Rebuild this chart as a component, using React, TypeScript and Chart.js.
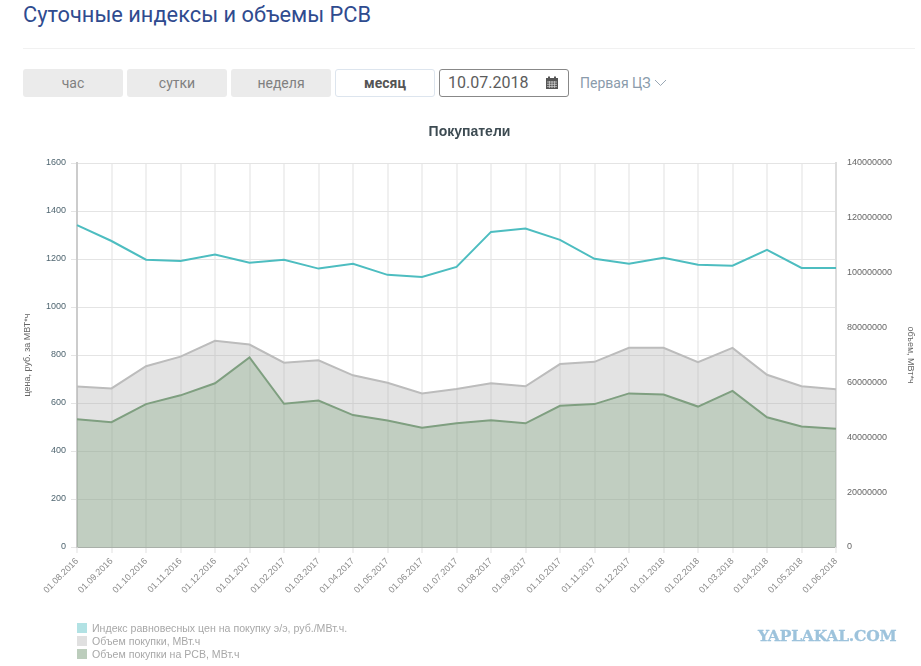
import { useEffect, useRef } from "react";
import { Chart, registerables } from "chart.js";

Chart.register(...registerables);

const months = [
  "01.08.2016", "01.09.2016", "01.10.2016", "01.11.2016", "01.12.2016",
  "01.01.2017", "01.02.2017", "01.03.2017", "01.04.2017", "01.05.2017",
  "01.06.2017", "01.07.2017", "01.08.2017", "01.09.2017", "01.10.2017",
  "01.11.2017", "01.12.2017", "01.01.2018", "01.02.2018", "01.03.2018",
  "01.04.2018", "01.05.2018", "01.06.2018",
];

// руб. за МВт*ч
const priceIndex = [
  1341, 1275, 1197, 1192, 1219, 1184, 1197, 1160, 1180, 1134, 1125, 1167,
  1313, 1327, 1280, 1201, 1180, 1205, 1176, 1172, 1238, 1163, 1163,
];

// МВт*ч
const purchaseVolume = [
  58500000, 57800000, 65900000, 69400000, 75200000, 73800000, 67200000,
  68100000, 62600000, 59900000, 56000000, 57600000, 59700000, 58600000,
  66700000, 67500000, 72600000, 72600000, 67400000, 72600000, 62800000,
  58600000, 57500000,
];

const purchaseVolumeRsv = [
  46600000, 45500000, 52100000, 55300000, 59700000, 69100000, 52200000,
  53400000, 48100000, 46100000, 43500000, 45100000, 46200000, 45100000,
  51500000, 52100000, 56000000, 55600000, 51200000, 56900000, 47300000,
  43900000, 43100000,
];

const periods = ["час", "сутки", "неделя", "месяц"];
const legendItems = [
  { label: "Индекс равновесных цен на покупку э/э, руб./МВт.ч.", color: "#b2e2e4" },
  { label: "Объем покупки, МВт.ч", color: "#e0e0e0" },
  { label: "Объем покупки на РСВ, МВт.ч", color: "#bccdbc" },
];

const FONT = "'Liberation Sans', Arial, sans-serif";

const abs = (left: number, top: number, width?: number, height?: number): React.CSSProperties => ({
  position: "absolute",
  left,
  top,
  width,
  height,
});

const plainTick = (value: string | number) => String(value);

const App: React.FC = () => {
  const canvasRef = useRef<HTMLCanvasElement | null>(null);

  useEffect(() => {
    if (!canvasRef.current) return;
    const chart = new Chart(canvasRef.current, {
      type: "line",
      data: {
        labels: months,
        datasets: [
          {
            label: legendItems[0].label,
            data: priceIndex,
            yAxisID: "y",
            borderColor: "#4dbdc0",
            borderWidth: 2,
            pointRadius: 0,
            tension: 0,
            fill: false,
            order: 1,
          },
          {
            label: legendItems[1].label,
            data: purchaseVolume,
            yAxisID: "y1",
            borderColor: "#bcbcbc",
            backgroundColor: "rgba(170,170,170,0.33)",
            borderWidth: 2,
            pointRadius: 0,
            tension: 0,
            fill: "origin",
            order: 3,
          },
          {
            label: legendItems[2].label,
            data: purchaseVolumeRsv,
            yAxisID: "y1",
            borderColor: "#7f9f80",
            backgroundColor: "rgba(130,165,130,0.35)",
            borderWidth: 2,
            pointRadius: 0,
            tension: 0,
            fill: "origin",
            order: 2,
          },
        ],
      },
      options: {
        responsive: false,
        animation: false,
        plugins: {
          legend: { display: false },
          tooltip: { enabled: false },
          title: {
            display: true,
            text: "Покупатели",
            color: "#3d4b52",
            font: { family: FONT, size: 14, weight: "bold" },
            padding: { top: 4, bottom: 22.2 },
          },
        },
        scales: {
          x: {
            ticks: {
              autoSkip: false,
              minRotation: 45,
              maxRotation: 45,
              color: "#8a8a8a",
              padding: 3,
              font: { family: FONT, size: 9 },
            },
            grid: { color: "#f0f0f0", lineWidth: 2, tickLength: 6 },
            border: { color: "#a9b0a9", width: 1 },
            afterFit: (scale) => {
              scale.height = 119;
            },
          },
          y: {
            position: "left",
            min: 0,
            max: 1600,
            ticks: {
              stepSize: 200,
              color: "#4f6570",
              padding: 5,
              font: { family: FONT, size: 9 },
              callback: plainTick,
            },
            title: {
              display: true,
              text: "цена, руб. за МВТ*ч",
              color: "#666",
              font: { family: FONT, size: 9 },
              padding: { top: 4, bottom: 0 },
            },
            grid: { color: "#e4e4e4", lineWidth: 1, tickLength: 6 },
            border: { color: "#cccccc", width: 2 },
            afterFit: (scale) => {
              scale.width = 59;
            },
          },
          y1: {
            position: "right",
            min: 0,
            max: 140000000,
            ticks: {
              stepSize: 20000000,
              color: "#666",
              padding: 11,
              font: { family: FONT, size: 9 },
              callback: plainTick,
            },
            title: {
              display: true,
              text: "объем, МВт*ч",
              color: "#666",
              font: { family: FONT, size: 9 },
              padding: { top: 5, bottom: 0 },
            },
            grid: { drawOnChartArea: false, drawTicks: false },
            border: { color: "#dddddd", width: 2 },
            afterFit: (scale) => {
              scale.width = 85;
            },
          },
        },
      },
    });
    return () => chart.destroy();
  }, []);

  return (
    <div style={{ ...abs(0, 0, 921, 666), background: "#fff", overflow: "hidden", fontFamily: "Roboto, sans-serif" }}>
      <div style={{ ...abs(23, 0), fontSize: 21.8, lineHeight: "29px", color: "#2f4b8f", whiteSpace: "nowrap" }}>
        Суточные индексы и объемы РСВ
      </div>
      <div style={{ ...abs(23, 48, 892, 1), background: "#f1f1f1" }} />

      {periods.map((p, i) => {
        const active = p === "месяц";
        return (
          <div
            key={p}
            style={{
              ...abs(23 + i * 104, 69, 100, 28),
              boxSizing: "border-box",
              borderRadius: 3,
              background: active ? "#fff" : "#ebebeb",
              border: active ? "1px solid #dde5ee" : "none",
              color: active ? "#555" : "#808080",
              fontWeight: active ? 700 : 400,
              fontSize: 14,
              lineHeight: active ? "26px" : "28px",
              textAlign: "center",
            }}
          >
            {p}
          </div>
        );
      })}

      <div
        style={{
          ...abs(439, 69, 130, 28),
          boxSizing: "border-box",
          border: "1px solid #888",
          borderRadius: 3,
          paddingLeft: 8,
          fontSize: 16,
          lineHeight: "25px",
          color: "#5c5c5c",
        }}
      >
        10.07.2018
      </div>
      <svg style={abs(545, 76, 14, 14)} viewBox="0 0 14 14">
        <rect x="1" y="2" width="12" height="11" fill="#555" />
        <rect x="3" y="0.5" width="2" height="3" fill="#555" />
        <rect x="9" y="0.5" width="2" height="3" fill="#555" />
        <path d="M2 6h10M2 8.3h10M2 10.6h10M4.4 5v7M7 5v7M9.6 5v7" stroke="#ddd" strokeWidth="0.7" />
      </svg>
      <div style={{ ...abs(580, 69), fontSize: 14, lineHeight: "28px", color: "#8a9bab", whiteSpace: "nowrap" }}>
        Первая ЦЗ
      </div>
      <svg style={abs(654, 79, 13, 8)} viewBox="0 0 13 8">
        <path d="M1 1l5.5 5.5L12 1" stroke="#9aa8b5" strokeWidth="1" fill="none" />
      </svg>

      <canvas ref={canvasRef} width={903} height={546} style={{ ...abs(18, 120), display: "block" }} />

      {legendItems.map((item, i) => (
        <div key={item.label}>
          <div style={{ ...abs(77, 623 + i * 13, 10, 10), background: item.color }} />
          <div
            style={{
              ...abs(92, 622 + i * 13),
              fontFamily: FONT,
              fontSize: 10.6,
              lineHeight: "13px",
              color: "#a8a8a8",
              whiteSpace: "nowrap",
            }}
          >
            {item.label}
          </div>
        </div>
      ))}

      <div
        style={{
          ...abs(758, 627),
          fontFamily: "'DejaVu Serif', serif",
          fontWeight: 700,
          fontSize: 15.5,
          lineHeight: "18px",
          letterSpacing: -0.2,
          color: "#9dc3dc",
          WebkitTextStroke: "0.3px #9dc3dc",
          whiteSpace: "nowrap",
        }}
      >
        YAPLAKAL.COM
      </div>
    </div>
  );
};

export default App;
